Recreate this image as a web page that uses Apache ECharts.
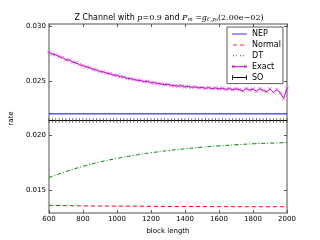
<!DOCTYPE html>
<html>
<head>
<meta charset="utf-8">
<script src="https://cdn.jsdelivr.net/npm/echarts@6/dist/echarts.min.js"></script>
<style>html,body{margin:0;padding:0;background:#fff}#c{width:320px;height:240px}</style>
</head>
<body>
<div id="c"></div>
<script>
// block lengths
var exactX = [600,620,640,660,680,700,720,740,760,780,800,820,840,860,880,900,920,940,960,980,1000,1020,1040,1060,1080,1100,1120,1140,1160,1180,1200,1220,1240,1260,1280,1300,1320,1340,1360,1380,1400,1420,1440,1460,1480,1500,1520,1540,1560,1580,1600,1620,1640,1660,1680,1700,1720,1740,1760,1780,1800,1820,1840,1860,1880,1900,1920,1940,1960,1980,2000];
var exactY = [0.02760,0.02745,0.02738,0.02722,0.02712,0.02693,0.02690,0.02672,0.02665,0.02648,0.02640,0.02628,0.02620,0.02605,0.02600,0.02585,0.02582,0.02570,0.02565,0.02552,0.02550,0.02538,0.02535,0.02522,0.02520,0.02512,0.02505,0.02503,0.02492,0.02495,0.02484,0.02482,0.02475,0.02472,0.02465,0.02468,0.02458,0.02456,0.02452,0.02455,0.02446,0.02448,0.02440,0.02445,0.02436,0.02440,0.02432,0.02438,0.02428,0.02435,0.02426,0.02432,0.02422,0.02430,0.02418,0.02428,0.02420,0.02408,0.02430,0.02415,0.02425,0.02405,0.02428,0.02412,0.02400,0.02425,0.02395,0.02420,0.02390,0.02340,0.02430];
var soY = [0.02137,0.02137,0.02137,0.02137,0.02137,0.02137,0.02137,0.02137,0.02137,0.02137,0.02137,0.02137,0.02137,0.02137,0.02137,0.02137,0.02137,0.02137,0.02137,0.02137,0.02137,0.02137,0.02137,0.02137,0.02137,0.02137,0.02137,0.02137,0.02137,0.02137,0.02137,0.02137,0.02137,0.02137,0.02137,0.02137,0.02137,0.02137,0.02137,0.02137,0.02137,0.02137,0.02137,0.02137,0.02137,0.02137,0.02137,0.02137,0.02137,0.02137,0.02137,0.02137,0.02137,0.02137,0.02137,0.02137,0.02137,0.02137,0.02137,0.02137,0.02137,0.02137,0.02137,0.02137,0.02137,0.02137,0.02137,0.02137,0.02137,0.02137,0.02137];
var coarseX = [600,700,800,900,1000,1100,1200,1300,1400,1500,1600,1700,1800,1900,2000];
var nepY = [0.02198,0.02198,0.02198,0.02198,0.02198,0.02198,0.02198,0.02198,0.02198,0.02198,0.02198,0.02198,0.02198,0.02198,0.02198];
var normalY = [0.01361,0.01358,0.01356,0.01355,0.01354,0.01353,0.01352,0.01351,0.01350,0.01350,0.01349,0.01349,0.01348,0.01348,0.01348];
var dtY = [0.01615,0.01670,0.01718,0.01758,0.01790,0.01818,0.01842,0.01862,0.01878,0.01893,0.01905,0.01915,0.01924,0.01930,0.01935];
var xTicks = [600,800,1000,1200,1400,1600,1800,2000];
var yTicks = [0.015,0.020,0.025,0.030];

function pairs(xs, ys){ return xs.map(function(x,i){ return [x, ys[i]]; }); }

// legend icon shapes (15x8 box; tiny corner specks fix the bounding box)
var box = 'M0,0L0.01,0L0,0.01Z M15,8L14.99,8L15,7.99Z ';
var iconNEP = 'path://' + box + 'M0,3.5H15V4.5H0Z';
var iconNormal = 'path://' + box + 'M1,3.5H5V4.5H1Z M8,3.5H12V4.5H8Z';
var iconDT = 'path://' + box + 'M1,3.5H2V4.5H1Z M4,3.5H5V4.5H4Z M8,3.5H9V4.5H8Z M11,3.5H12V4.5H11Z';
var iconExact = 'path://' + box + 'M0,3.5H15V4.5H0Z ' +
  'M0,2.2L0.6,2.2L3,5.4L2.4,5.4Z M2.4,2.2L3,2.2L0.6,5.4L0,5.4Z ' +
  'M12,2.2L12.6,2.2L15,5.4L14.4,5.4Z M14.4,2.2L15,2.2L12.6,5.4L12,5.4Z';
var iconSO = 'path://' + box + 'M0,3.5H15V4.5H0Z M0,1.5H0.8V6.5H0Z M14.2,1.5H15V6.5H14.2Z';

var frame = {lineStyle:{color:'#8a8a8a', width:1.5}};
var font = 'DejaVu Sans';
var chart = echarts.init(document.getElementById('c'), null, {renderer:'canvas'});
chart.setOption({
  animation:false,
  backgroundColor:'#fff',
  title:{
    text:'Z Channel with {i|p}{m|=0.9} and {i|P}{s|m} {m|=}{i|g}{s|t\u2032,p\u2080}{m|(2.00e\u221202)}',
    left:164, top:8, textAlign:'center',
    textStyle:{fontFamily:font, fontSize:8, fontWeight:'normal', color:'#000',
      rich:{
        i:{fontFamily:'DejaVu Serif', fontStyle:'italic', fontSize:8, color:'#000'},
        m:{fontFamily:'DejaVu Serif', fontSize:8, color:'#000'},
        s:{fontFamily:'DejaVu Serif', fontStyle:'italic', fontSize:5.5, color:'#000', verticalAlign:'bottom', padding:[4,0,0,0]}
      }}
  },
  legend:{
    orient:'vertical', left:227, top:27, padding:[3,2,2,5],
    itemWidth:15, itemHeight:8, itemGap:2.9,
    backgroundColor:'#fff', borderColor:'#333', borderWidth:0.8,
    textStyle:{fontFamily:font, fontSize:8, color:'#000', lineHeight:8},
    data:[
      {name:'NEP', icon:iconNEP, itemStyle:{color:'#3333ff', borderWidth:0}},
      {name:'Normal', icon:iconNormal, itemStyle:{color:'#ff3333', borderWidth:0}},
      {name:'DT', icon:iconDT, itemStyle:{color:'#008000', borderWidth:0}},
      {name:'Exact', icon:iconExact, itemStyle:{color:'#c000c0', borderWidth:0}},
      {name:'SO', icon:iconSO, itemStyle:{color:'#000', borderWidth:0}}
    ]
  },
  grid:{left:40, right:33, top:24, bottom:25},
  xAxis:[{
    type:'value', min:600, max:2000, interval:200,
    name:'block length', nameLocation:'middle', nameGap:11,
    nameTextStyle:{fontFamily:font, fontSize:7, color:'#000'},
    axisLine:frame, splitLine:{show:false},
    axisTick:{inside:true, length:3, lineStyle:{color:'#555'}},
    axisLabel:{fontFamily:font, fontSize:7, color:'#000', margin:3, customValues:xTicks,
      formatter:function(v){ return String(v); }}
  },{
    type:'value', position:'top', min:600, max:2000, interval:200,
    axisLine:frame, splitLine:{show:false},
    axisTick:{inside:true, length:3, lineStyle:{color:'#555'}},
    axisLabel:{show:false}
  }],
  yAxis:[{
    type:'value', min:0.0129, max:0.0302,
    name:'rate', nameLocation:'middle', nameGap:24, nameRotate:90,
    nameTextStyle:{fontFamily:font, fontSize:7, color:'#000'},
    axisLine:frame, splitLine:{show:false},
    axisTick:{inside:true, length:3, customValues:yTicks, lineStyle:{color:'#555'}},
    axisLabel:{fontFamily:font, fontSize:7, color:'#000', margin:3, customValues:yTicks,
      formatter:function(v){ return v.toFixed(3); }}
  },{
    type:'value', position:'right', min:0.0129, max:0.0302,
    axisLine:frame, splitLine:{show:false},
    axisTick:{inside:true, length:3, customValues:yTicks, lineStyle:{color:'#555'}},
    axisLabel:{show:false}
  }],
  series:[
    {name:'NEP', type:'line', data:pairs(coarseX, nepY), symbol:'none',
     color:'#0000ff', lineStyle:{color:'#0000ff', width:1}},
    {name:'Normal', type:'line', data:pairs(coarseX, normalY), symbol:'none',
     color:'#ff0000', lineStyle:{color:'#ff0000', width:1, type:[4,3]}},
    {name:'DT', type:'line', data:pairs(coarseX, dtY), symbol:'none', smooth:true,
     color:'#008000', lineStyle:{color:'#008000', width:1, type:[4,2,1,2]}},
    {name:'Exact', type:'line', data:pairs(exactX, exactY),
     symbol:'path://M0,0L10,10M10,0L0,10', symbolSize:3.5,
     itemStyle:{color:'#c000c0', borderColor:'#d040d0', borderWidth:0.7},
     color:'#c000c0', lineStyle:{color:'#c000c0', width:1}},
    {name:'SO', type:'line', data:pairs(exactX, soY),
     symbol:'rect', symbolSize:[0.7,4.5],
     itemStyle:{color:'#333'}, color:'#000', lineStyle:{color:'#000', width:1}}
  ]
});
</script>
</body>
</html>
